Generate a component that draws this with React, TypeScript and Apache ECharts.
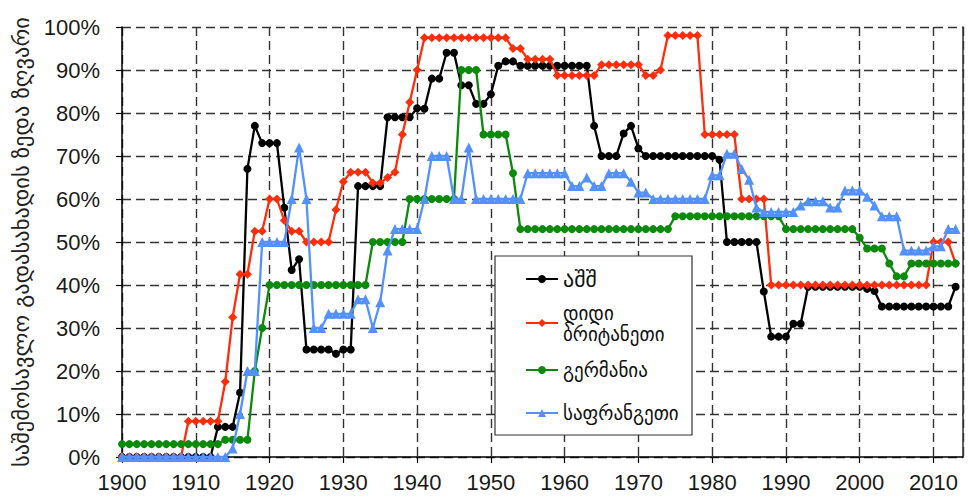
import React, { useEffect, useRef } from "react";
import * as echarts from "echarts";

const years: number[] = Array.from({ length: 114 }, (_, i) => 1900 + i);

const usa = [
  0, 0, 0, 0, 0, 0, 0, 0, 0, 0,
  0, 0, 0, 7, 7, 7, 15, 67, 77, 73,
  73, 73, 58, 43.5, 46, 25, 25, 25, 25, 24,
  25, 25, 63, 63, 63, 63, 79, 79, 79, 79,
  81.1, 81, 88, 88, 94, 94, 86.45, 86.45, 82.13, 82.13,
  84.36, 91, 92, 92, 91, 91, 91, 91, 91, 91,
  91, 91, 91, 91, 77, 70, 70, 70, 75.25, 77,
  71.75, 70, 70, 70, 70, 70, 70, 70, 70, 70,
  70, 69.13, 50, 50, 50, 50, 50, 38.5, 28, 28,
  28, 31, 31, 39.6, 39.6, 39.6, 39.6, 39.6, 39.6, 39.6,
  39.6, 39.1, 38.6, 35, 35, 35, 35, 35, 35, 35,
  35, 35, 35, 39.6,
];

const uk = [
  0, 0, 0, 0, 0, 0, 0, 0, 0, 8.33,
  8.33, 8.33, 8.33, 8.33, 17.5, 32.5, 42.5, 42.5, 52.5, 52.5,
  60, 60, 55, 52.5, 52.5, 50, 50, 50, 50, 57.5,
  64, 66.25, 66.25, 66.25, 63.75, 63.75, 65, 66.25, 75, 82.5,
  90, 97.5, 97.5, 97.5, 97.5, 97.5, 97.5, 97.5, 97.5, 97.5,
  97.5, 97.5, 97.5, 95, 95, 92.5, 92.5, 92.5, 92.5, 88.75,
  88.75, 88.75, 88.75, 88.75, 88.75, 91.25, 91.25, 91.25, 91.25, 91.25,
  91.25, 88.75, 88.75, 90, 98, 98, 98, 98, 98, 75,
  75, 75, 75, 75, 60, 60, 60, 60, 40, 40,
  40, 40, 40, 40, 40, 40, 40, 40, 40, 40,
  40, 40, 40, 40, 40, 40, 40, 40, 40, 40,
  50, 50, 50, 45,
];

const germany = [
  3, 3, 3, 3, 3, 3, 3, 3, 3, 3,
  3, 3, 3, 3, 4, 4, 4, 4, 20, 30,
  40, 40, 40, 40, 40, 40, 40, 40, 40, 40,
  40, 40, 40, 40, 50, 50, 50, 50, 50, 60,
  60, 60, 60, 60, 60, 60, 90, 90, 90, 75,
  75, 75, 75, 66, 53, 53, 53, 53, 53, 53,
  53, 53, 53, 53, 53, 53, 53, 53, 53, 53,
  53, 53, 53, 53, 53, 56, 56, 56, 56, 56,
  56, 56, 56, 56, 56, 56, 56, 56, 56, 56,
  53, 53, 53, 53, 53, 53, 53, 53, 53, 53,
  51, 48.5, 48.5, 48.5, 45, 42, 42, 45, 45, 45,
  45, 45, 45, 45,
];

const france = [
  0, 0, 0, 0, 0, 0, 0, 0, 0, 0,
  0, 0, 0, 0, 0, 2, 10, 20, 20, 50,
  50, 50, 50, 60, 72, 60, 30, 30, 33.3, 33.3,
  33.3, 33.3, 36.7, 36.7, 30, 36, 48, 53, 53, 53,
  53, 60, 70, 70, 70, 60, 60, 72, 60, 60,
  60, 60, 60, 60, 60, 66, 66, 66, 66, 66,
  66, 63, 63, 65, 63, 63, 66, 66, 66, 64,
  61.5, 61.5, 60, 60, 60, 60, 60, 60, 60, 60,
  65.5, 65.5, 70.5, 70.5, 67, 64.5, 58, 57, 57, 57,
  57, 57, 58.5, 59.5, 59.5, 59.5, 58, 58, 62, 62,
  62, 60.5, 58.5, 56, 56, 56, 48, 48, 48, 48,
  49, 49, 53, 53,
];

const seriesNames = ["აშშ", "დიდი\nბრიტანეთი", "გერმანია", "საფრანგეთი"];
const yAxisTitle = "საშემოსავლო გადასახადის ზედა ზღვარი";

const LABEL_FONT = "'Liberation Sans', Arial, sans-serif";
const GEO_FONT = "'DejaVu Sans', sans-serif";

export default function App() {
  const ref = useRef<HTMLDivElement>(null);
  useEffect(() => {
    if (!ref.current) return;
    const chart = echarts.init(ref.current, undefined, { renderer: "svg" });
    const mk = (arr: number[]) => years.map((y, i) => [y, arr[i]]);
    const styles = [
      { color: "#000000", symbol: "circle", size: 8 },
      { color: "#ff2d0a", symbol: "diamond", size: 9 },
      { color: "#0b8a0b", symbol: "circle", size: 8 },
      { color: "#5291ff", symbol: "triangle", size: 10 },
    ];
    const datas = [usa, uk, germany, france];
    const legendTops = [267, 302, 359, 402];
    const legendFont = [22, 19, 19, 19];
    const legendLH = [24, 21, 22, 22];
    chart.setOption({
      animation: false,
      grid: { left: 122, right: 8, top: 27, bottom: 44, containLabel: false },
      xAxis: {
        type: "value",
        min: 1900,
        max: 2014,
        interval: 10,
        axisLine: { show: true, lineStyle: { color: "#000", width: 1.5 } },
        axisTick: { show: true, length: 6, lineStyle: { color: "#000", width: 1.2 } },
        axisLabel: {
          formatter: (v: number) => String(v),
          showMaxLabel: false,
          fontSize: 22,
          fontFamily: LABEL_FONT,
          color: "#1a1a1a",
          margin: 14,
        },
        splitLine: { show: true, lineStyle: { color: "#333", type: [9, 5], width: 1.4 } },
      },
      yAxis: [
        {
          type: "value",
          min: 0,
          max: 100,
          interval: 10,
          name: yAxisTitle,
          nameLocation: "middle",
          nameGap: 90,
          nameTextStyle: { fontSize: 22.5, fontFamily: GEO_FONT, color: "#222" },
          axisLine: { show: true, lineStyle: { color: "#000", width: 1.5 } },
          axisTick: { show: true, length: 6, lineStyle: { color: "#000", width: 1.2 } },
          axisLabel: {
            formatter: "{value}%",
            fontSize: 22,
            fontFamily: LABEL_FONT,
            color: "#1a1a1a",
            margin: 22,
          },
          splitLine: { show: true, lineStyle: { color: "#333", type: [9, 5], width: 1.4 } },
        },
        {
          type: "value",
          min: 0,
          max: 100,
          position: "right",
          axisLine: { show: true, lineStyle: { color: "#333", width: 1.5 } },
          axisTick: { show: false },
          axisLabel: { show: false },
          splitLine: { show: false },
        },
      ],
      graphic: [
        {
          type: "rect",
          z: 3,
          shape: { x: 495, y: 256, width: 197, height: 179 },
          style: { fill: "#ffffff", stroke: "#333", lineWidth: 1.2 },
        },
      ],
      legend: seriesNames.map((n, i) => ({
        data: [n],
        orient: "vertical",
        left: 525,
        top: legendTops[i],
        padding: 0,
        itemWidth: 32,
        itemHeight: 10,
        z: 5,
        selectedMode: false,
        textStyle: {
          fontSize: legendFont[i],
          lineHeight: legendLH[i],
          fontFamily: GEO_FONT,
          color: "#111",
        },
      })),
      series: seriesNames.map((n, i) => ({
        name: n,
        type: "line",
        data: mk(datas[i]),
        symbol: styles[i].symbol,
        symbolSize: styles[i].size,
        showAllSymbol: true,
        lineStyle: { color: styles[i].color, width: 2.3 },
        itemStyle: { color: styles[i].color, borderWidth: 0 },
        z: 2 + i,
      })),
    });
    return () => chart.dispose();
  }, []);
  return (
    <div
      ref={ref}
      style={{ position: "fixed", left: 0, top: 0, width: 971, height: 501, background: "#fff" }}
    />
  );
}
